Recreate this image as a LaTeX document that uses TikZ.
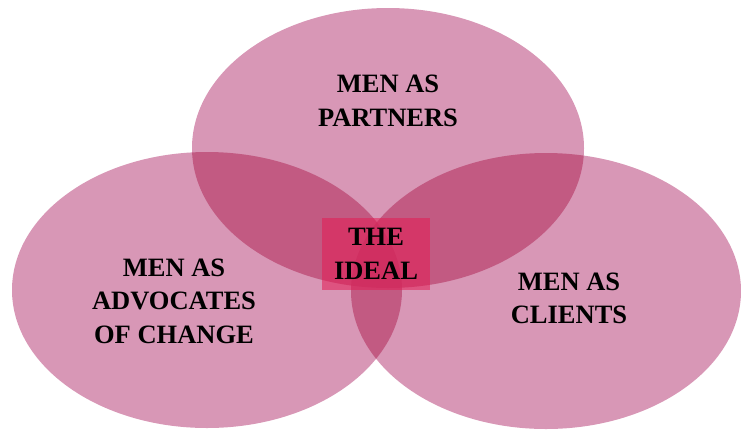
\documentclass[tikz,border=0pt]{standalone}
\usepackage{fontspec}
\setmainfont{Liberation Serif}
\definecolor{singlepink}{RGB}{216,151,182}
\definecolor{doublepink}{RGB}{194,90,130}
\definecolor{triplepink}{RGB}{184,72,114}
\definecolor{idealred}{RGB}{228,28,84}
\begin{document}
\begin{tikzpicture}[x=1pt,y=-1pt,
  lbl/.style={font=\bfseries\fontsize{26.5}{33.5}\selectfont, align=center, text=black, inner sep=0pt},
  idealbox/.style={fill=idealred, fill opacity=0.55, text opacity=1, minimum width=108pt, minimum height=72pt, inner sep=0pt}]
\useasboundingbox (0,0) rectangle (741,432);
% single ellipses
\fill[singlepink] (388,148) ellipse [x radius=196pt, y radius=140pt];
\fill[singlepink] (207,290) ellipse [x radius=195pt, y radius=138pt];
\fill[singlepink] (546,291) ellipse [x radius=195pt, y radius=138pt];
% pairwise overlaps
\begin{scope}
  \clip (388,148) ellipse [x radius=196pt, y radius=140pt];
  \fill[doublepink] (207,290) ellipse [x radius=195pt, y radius=138pt];
  \fill[doublepink] (546,291) ellipse [x radius=195pt, y radius=138pt];
\end{scope}
\begin{scope}
  \clip (207,290) ellipse [x radius=195pt, y radius=138pt];
  \fill[doublepink] (546,291) ellipse [x radius=195pt, y radius=138pt];
\end{scope}
% triple overlap
\begin{scope}
  \clip (388,148) ellipse [x radius=196pt, y radius=140pt];
  \clip (207,290) ellipse [x radius=195pt, y radius=138pt];
  \fill[triplepink] (546,291) ellipse [x radius=195pt, y radius=138pt];
\end{scope}
% labels
\node[lbl] (partners) at (388,101) {MEN AS\\PARTNERS};
\node[lbl] (advocates) at (174,301) {MEN AS\\ADVOCATES\\OF CHANGE};
\node[lbl] (clients) at (569,298.5) {MEN AS\\CLIENTS};
\node[idealbox] (idealrect) at (376,254) {};
\node[lbl] (ideal) at (376,254) {THE\\IDEAL};
\end{tikzpicture}
\end{document}
